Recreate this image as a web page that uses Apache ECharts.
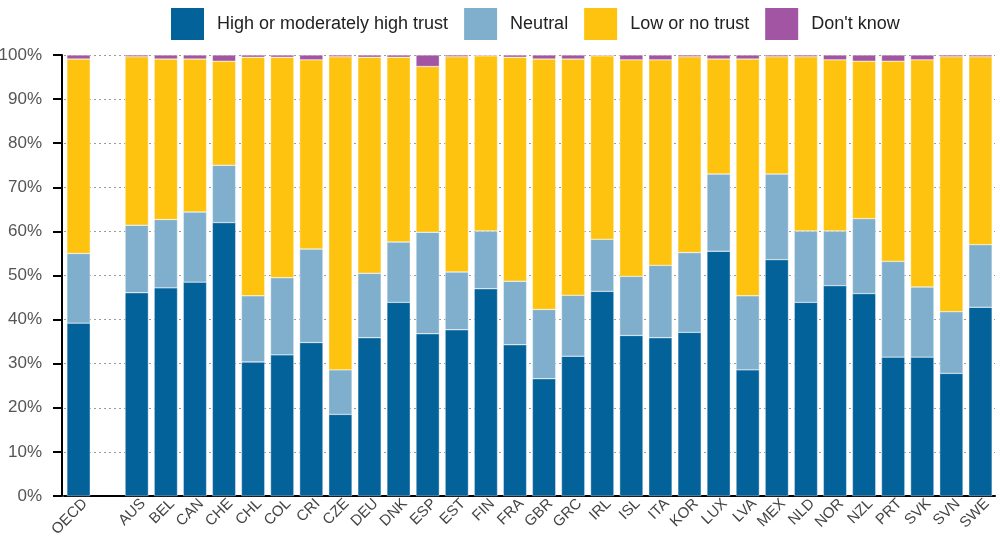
<!DOCTYPE html>
<html>
<head>
<meta charset="utf-8">
<script src="https://cdn.jsdelivr.net/npm/echarts@6/dist/echarts.min.js"></script>
<style>
html,body{margin:0;padding:0;background:#fff;}
#chart{width:1000px;height:538px;}
</style>
</head>
<body>
<div id="chart"></div>
<script>
var categories = ['OECD','','AUS','BEL','CAN','CHE','CHL','COL','CRI','CZE','DEU','DNK','ESP','EST','FIN','FRA','GBR','GRC','IRL','ISL','ITA','KOR','LUX','LVA','MEX','NLD','NOR','NZL','PRT','SVK','SVN','SWE'];
var seriesNames = ['High or moderately high trust','Neutral','Low or no trust',"Don't know"];
var highTrust = [39.2,null,46.1,47.2,48.5,62.0,30.4,32.0,34.8,18.5,35.9,43.9,36.8,37.7,47.0,34.3,26.6,31.7,46.4,36.4,35.9,37.1,55.5,28.6,53.6,43.9,47.7,45.9,31.5,31.5,27.8,42.8];
var neutral = [15.8,null,15.3,15.5,15.9,13.0,15.0,17.5,21.2,10.1,14.6,13.7,23.0,13.1,13.1,14.4,15.7,13.8,11.8,13.4,16.4,18.1,17.5,16.8,19.4,16.2,12.4,17.0,21.7,15.9,14.0,14.2];
var lowTrust = [44.1,null,38.2,36.4,34.7,23.6,54.1,50.0,42.9,71.0,49.0,41.9,37.6,48.8,39.7,50.8,56.8,53.6,41.6,49.1,46.6,44.4,26.1,53.7,26.6,39.5,38.8,35.7,45.4,51.5,57.8,42.6];
var dontKnow = [0.9,null,0.4,0.9,0.9,1.4,0.5,0.5,1.1,0.4,0.5,0.5,2.6,0.4,0.2,0.5,0.9,0.9,0.2,1.1,1.1,0.4,0.9,0.9,0.4,0.4,1.1,1.4,1.4,1.1,0.4,0.4];
var colors = ['#04629A','#80AFCE','#FEC30F','#A155A2'];
var FONT = '"Liberation Sans",Arial,sans-serif';

var chart = echarts.init(document.getElementById('chart'));
var dataSets = [highTrust, neutral, lowTrust, dontKnow];
var series = dataSets.map(function(d, i){
  return {
    name: seriesNames[i],
    type: 'bar',
    stack: 'total',
    data: d,
    barCategoryGap: '20%',
    itemStyle: {color: colors[i], borderColor: '#ffffff', borderWidth: 0.4},
    emphasis: {disabled: true}
  };
});
chart.setOption({
  animation: false,
  color: colors,
  legend: {
    top: 1,
    left: 164,
    itemWidth: 35,
    itemHeight: 34,
    itemGap: 14,
    icon: 'rect',
    textStyle: {fontFamily: FONT, fontSize: 18, color: '#222', padding: [0,0,0,7]},
    data: seriesNames
  },
  grid: {left: 64, right: 5, top: 55, bottom: 42, containLabel: false, outerBoundsMode: 'none'},
  xAxis: {
    type: 'category',
    data: categories,
    axisLine: {lineStyle: {color: '#000', width: 2}},
    axisTick: {show: false},
    axisLabel: {
      rotate: 45, fontFamily: FONT, fontSize: 15, color: '#444', margin: -1, interval: 0,
      lineHeight: 18,
      formatter: function(v){ return v ? ' \n' + v : ''; }
    }
  },
  yAxis: {
    type: 'value',
    min: 0, max: 100, interval: 10,
    offset: 2,
    axisLine: {show: true, lineStyle: {color: '#000', width: 2}},
    axisTick: {show: true, length: 9, lineStyle: {color: '#000', width: 2}},
    axisLabel: {formatter: '{value}%', fontFamily: FONT, fontSize: 17, color: '#555', margin: 20},
    splitLine: {show: true, lineStyle: {color: '#9a9a9a', type: [2,3], width: 1}}
  },
  series: series
});
</script>
</body>
</html>
